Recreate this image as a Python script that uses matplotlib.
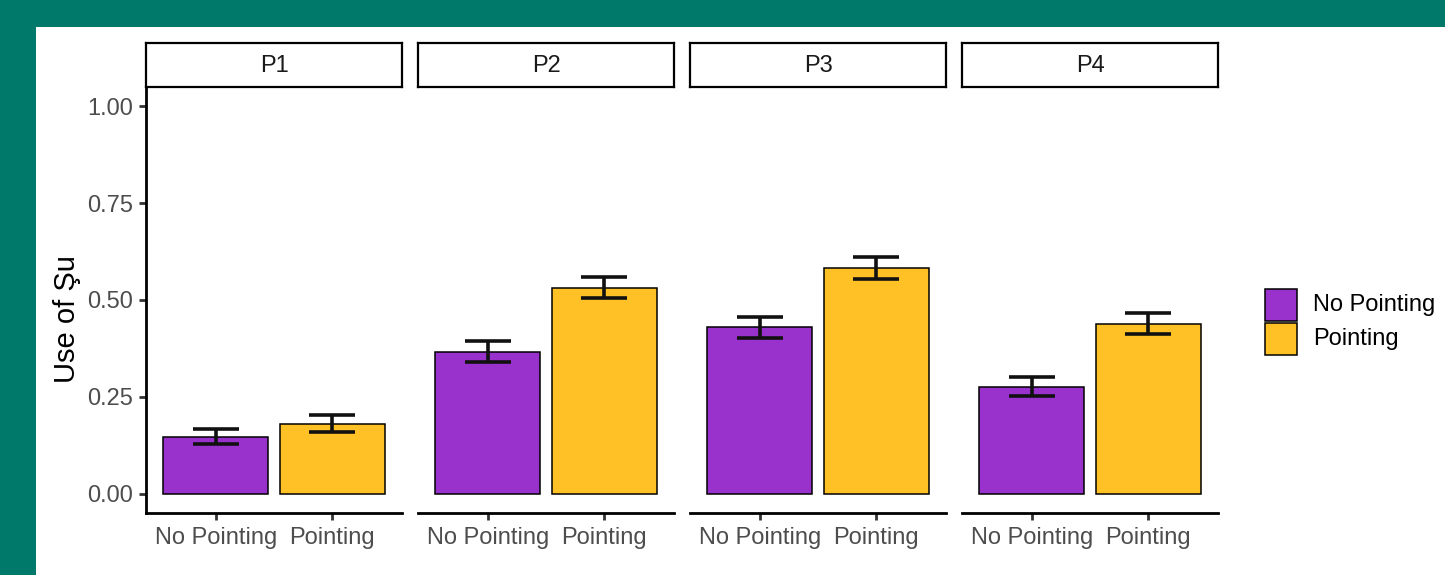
import matplotlib
matplotlib.use("Agg")
import matplotlib.pyplot as plt
from matplotlib.patches import Rectangle

plt.rcParams['font.family'] = ['Liberation Sans', 'DejaVu Sans']

panels = ["P1", "P2", "P3", "P4"]
conditions = ["No Pointing", "Pointing"]
colors = ["#9932CC", "#FFC125"]

# mean and error bar limits per panel: [No Pointing, Pointing]
means = [[0.147, 0.181], [0.367, 0.531], [0.429, 0.582], [0.276, 0.439]]
lower = [[0.128, 0.160], [0.341, 0.504], [0.403, 0.554], [0.251, 0.412]]
upper = [[0.167, 0.203], [0.393, 0.560], [0.455, 0.610], [0.300, 0.466]]

W, H = 1445, 575
fig = plt.figure(figsize=(W / 100, H / 100), dpi=100)
fig.patch.set_facecolor("#00796B")
fig.patches.append(Rectangle((36 / W, 0), 1 - 36 / W, (H - 27) / H,
                             transform=fig.transFigure, facecolor="white",
                             edgecolor="none", zorder=-10))

def px_axes(x0, y0, x1, y1):
    return fig.add_axes([x0 / W, 1 - y1 / H, (x1 - x0) / W, (y1 - y0) / H])

grey = "#4D4D4D"
for i, p in enumerate(panels):
    x0 = 146 + 272 * i
    ax = px_axes(x0, 87, x0 + 256, 513)
    ax.set_facecolor("none")
    xs = [1, 2]
    ax.bar(xs, means[i], width=0.9, color=colors, edgecolor="black",
           linewidth=1.1, zorder=2)
    yerr = [[m - l for m, l in zip(means[i], lower[i])],
            [u - m for m, u in zip(means[i], upper[i])]]
    ax.errorbar(xs, means[i], yerr=yerr, fmt="none", ecolor="#111111",
                elinewidth=2.6, capsize=16.5, capthick=2.6, zorder=3)
    ax.set_xlim(0.4, 2.6)
    ax.set_ylim(-0.05, 1.05)
    ax.set_xticks(xs)
    ax.set_xticklabels(conditions, fontsize=17, color=grey)
    for s in ["top", "right"]:
        ax.spines[s].set_visible(False)
    ax.spines["bottom"].set_linewidth(2)
    ax.tick_params(axis="x", length=5, width=2, color="#333333", pad=5)
    if i == 0:
        ax.spines["left"].set_linewidth(2)
        ax.set_yticks([0, 0.25, 0.5, 0.75, 1.0])
        ax.set_yticklabels(["0.00", "0.25", "0.50", "0.75", "1.00"],
                           fontsize=17, color=grey)
        ax.tick_params(axis="y", length=5, width=2, color="#333333", pad=4)
        ax.set_ylabel("Use of Şu", fontsize=21, labelpad=6)
        ax.yaxis.set_label_coords(-0.255, 0.455)
    else:
        ax.spines["left"].set_visible(False)
        ax.set_yticks([])

    sx = px_axes(x0, 43, x0 + 256, 87)
    sx.set_xticks([])
    sx.set_yticks([])
    for s in sx.spines.values():
        s.set_linewidth(1.6)
    sx.text(0.5, 0.47, p, ha="center", va="center", fontsize=17,
            color="#1A1A1A", transform=sx.transAxes)

# legend
for j, (c, lab) in enumerate(zip(colors, conditions)):
    y0 = 289 + 34 * j
    fig.patches.append(Rectangle((1265 / W, 1 - (y0 + 32) / H), 32 / W, 32 / H,
                                 transform=fig.transFigure, facecolor=c,
                                 edgecolor="black", linewidth=1.1))
    fig.text(1313 / W, 1 - (y0 + 16) / H, lab, fontsize=17, va="center",
             ha="left", color="black")

fig.savefig("out.png", dpi=100)
